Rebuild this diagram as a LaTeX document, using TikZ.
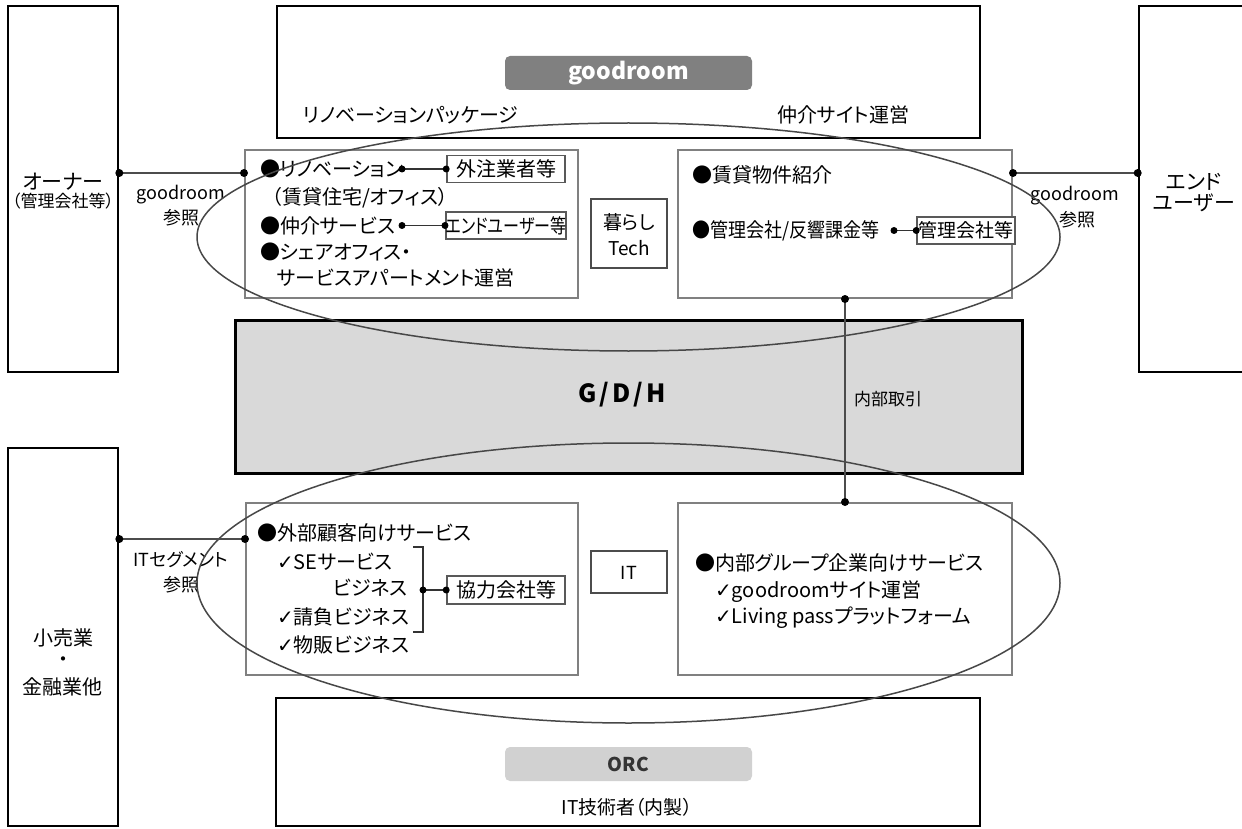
\documentclass[tikz,border=0pt]{standalone}
\usepackage{fontspec}
\setmainfont{Noto Sans CJK JP}[RawFeature=+palt]
\newfontfamily\dvs{DejaVu Sans}
\newcommand\fsz[1]{\fontsize{#1}{#1}\selectfont}
\newcommand\chk{{\dvs\fsz{20}✓}}
\definecolor{pillA}{gray}{0.5}
\definecolor{pillB}{gray}{0.82}
\definecolor{gdhfill}{gray}{0.85}
\definecolor{innerline}{gray}{0.5}
\definecolor{ellc}{gray}{0.28}
\begin{document}
\begin{tikzpicture}[x=1pt,y=-1pt,
  outer/.style={draw=black,line width=2.6pt,inner sep=0pt,fill=white},
  inner/.style={draw=innerline,line width=2pt,inner sep=0pt,fill=white},
  tagbox/.style={draw=black!65,line width=1.6pt,inner sep=0pt,fill=white,font=\fsz{20}},
  lbl/.style={inner sep=0pt,font=\fsz{20}},
  small/.style={inner sep=0pt,font=\fsz{18}},
  pill/.style={rounded corners=5pt,inner sep=0pt,minimum width=247pt,minimum height=34pt},
  dotc/.style={circle,fill=black,inner sep=0pt,minimum size=8pt},
  conn/.style={draw=black!70,line width=2pt},
  ell/.style={draw=ellc,line width=1.5pt}]
\useasboundingbox (0,0) rectangle (1242,829);

% outer boxes
\node[outer,minimum width=110pt,minimum height=366pt] (owner) at (63,189) {};
\node[outer,minimum width=703pt,minimum height=132pt] (topbox) at (628.5,72) {};
\node[outer,minimum width=107pt,minimum height=366pt] (enduser) at (1192.5,189) {};
\node[outer,fill=gdhfill,line width=3pt,minimum width=787pt,minimum height=153pt] (gdh) at (628.5,396.5) {};
\node[outer,minimum width=704pt,minimum height=128pt] (botbox) at (628,762) {};
\node[outer,minimum width=110pt,minimum height=378pt] (retail) at (63,637) {};

% inner boxes
\node[inner,minimum width=333pt,minimum height=148pt] (ulbox) at (411.5,224) {};
\node[inner,minimum width=334pt,minimum height=148pt] (urbox) at (845,224) {};
\node[inner,minimum width=332pt,minimum height=172pt] (llbox) at (412,589) {};
\node[inner,minimum width=334pt,minimum height=172pt] (lrbox) at (845,589) {};
\node[inner,draw=black!70,line width=1.8pt,minimum width=76pt,minimum height=69pt] (tech) at (629,233.5) {};
\node[inner,draw=black!70,line width=1.8pt,minimum width=76pt,minimum height=42pt] (itbox) at (629,572) {};

% pills
\node[pill,fill=pillA,text=white,font=\fsz{23}\bfseries] (gr) at (628.5,73) {goodroom};
\node[pill,fill=pillB,text=black!80,font=\fsz{19}\bfseries] (orc) at (628.5,764) {ORC};

% top box texts
\node[lbl,anchor=west] (renopkg) at (303,115) {リノベーションパッケージ};
\node[lbl,anchor=west] (chukai) at (777,115) {仲介サイト運営};

% owner
\node[lbl,font=\fsz{21}] (ownerT) at (63,182) {オーナー};
\node[lbl,font=\fsz{17}] (ownerS) at (63,201) {（管理会社等）};
\node[small] (grl1) at (181,195) {goodroom};
\node[small] (grl2) at (181,218) {参照};

% end user
\node[lbl,font=\fsz{21}] (euT1) at (1194,182) {エンド};
\node[lbl,font=\fsz{21}] (euT2) at (1194,203) {ユーザー};
\node[small] (grr1) at (1075,196) {goodroom};
\node[small] (grr2) at (1077,220) {参照};

% upper-left inner texts
\node[lbl,anchor=west] (renov) at (260,169) {●リノベーション};
\node[lbl,anchor=west] (chintaiO) at (272,198) {（賃貸住宅/オフィス）};
\node[lbl,anchor=west] (chukaiS) at (260,225.5) {●仲介サービス};
\node[lbl,anchor=west] (share1) at (260,252) {●シェアオフィス・};
\node[lbl,anchor=west] (share2) at (277,278) {サービスアパートメント運営};
\node[tagbox,minimum width=118pt,minimum height=27pt] (tag1) at (506,169) {外注業者等};
\node[tagbox,minimum width=118pt,minimum height=27pt] (tag2) at (506,225.5) {\scalebox{0.8}[1]{エンドユーザー等}};
\coordinate (d1) at (402,169);
\coordinate (d2) at (402,225.5);

% tech box text
\node[lbl,font=\fsz{19}] (techA) at (629,222) {暮らし};
\node[lbl,font=\fsz{19}] (techB) at (629,248) {Tech};

% upper-right inner texts
\node[lbl,anchor=west] (chintai) at (692,175) {●賃貸物件紹介};
\node[lbl,anchor=west] (kanri) at (692,230.5) {\scalebox{0.9}[1]{●管理会社/反響課金等}};
\node[tagbox,font=\fsz{19},minimum width=98pt,minimum height=27pt] (tag3) at (966,230.5) {管理会社等};
\coordinate (d3) at (894,230.5);

% G/D/H
\node[inner sep=0pt,font=\fsz{25}\bfseries] (gdhT) at (622,395) {G\hspace{3pt}/\hspace{3pt}D\hspace{3pt}/\hspace{3pt}H};
\node[lbl,anchor=west,font=\fsz{17}] (naibu) at (854,399) {内部取引};

% lower-left inner texts
\node[lbl,anchor=west] (gaibu) at (257,533) {●外部顧客向けサービス};
\node[lbl,anchor=west] (se1) at (277,562) {\chk SEサービス};
\node[lbl,anchor=east] (se2) at (408,588) {ビジネス};
\node[lbl,anchor=west] (ukeoi) at (277,617) {\chk 請負ビジネス};
\node[lbl,anchor=west] (buppan) at (277,645) {\chk 物販ビジネス};
\node[tagbox,minimum width=118pt,minimum height=28pt] (tag4) at (506,590) {協力会社等};
\coordinate (br1) at (413,547);
\coordinate (br2) at (423,547);
\coordinate (br3) at (423,632);
\coordinate (br4) at (413,632);
\coordinate (d4) at (423,590);

% IT box
\node[lbl,font=\fsz{18}] (itT) at (629,573) {IT};

% lower-right inner texts
\node[lbl,anchor=west] (naibuG) at (695,563) {●内部グループ企業向けサービス};
\node[lbl,anchor=west] (grsite) at (715,592) {\chk goodroomサイト運営};
\node[lbl,anchor=west] (living) at (715,618) {\chk Living passプラットフォーム};

% retail
\node[lbl] (rt1) at (63,638) {小売業};
\node[lbl] (rt2) at (63,662) {・};
\node[lbl] (rt3) at (63,687) {金融業他};
\node[small] (itseg1) at (181,560) {ITセグメント};
\node[small] (itseg2) at (181,585) {参照};

% bottom
\node[lbl,font=\fsz{19}] (itgijutsu) at (627,807) {IT技術者（内製）};

% ellipses
\draw[ell] (628.5,237) ellipse [x radius=431.5pt, y radius=114pt];
\draw[ell] (628.5,583) ellipse [x radius=431.5pt, y radius=140pt];

% connectors
\coordinate (yOwner) at (0,173);
\coordinate (yRetail) at (0,539);
\draw[conn] (owner.east |- yOwner) -- (ulbox.west |- yOwner);
\node[dotc] at (owner.east |- yOwner) {};
\node[dotc] at (ulbox.west |- yOwner) {};
\draw[conn] (urbox.east |- yOwner) -- (enduser.west |- yOwner);
\node[dotc] at (urbox.east |- yOwner) {};
\node[dotc] at (enduser.west |- yOwner) {};
\draw[conn] (retail.east |- yRetail) -- (llbox.west |- yRetail);
\node[dotc] at (retail.east |- yRetail) {};
\node[dotc] at (llbox.west |- yRetail) {};
\draw[conn,line width=1.6pt] (urbox.south) -- (lrbox.north);
\node[dotc] at (urbox.south) {};
\node[dotc] at (lrbox.north) {};

\draw[conn,line width=1.4pt,draw=black!80] (d1) -- (tag1.west);
\node[dotc,minimum size=7pt] at (d1) {};
\node[dotc,minimum size=7pt] at (tag1.west) {};
\draw[conn,line width=1.4pt,draw=black!80] (d2) -- (tag2.west);
\node[dotc,minimum size=7pt] at (d2) {};
\node[dotc,minimum size=7pt] at (tag2.west) {};
\draw[conn,line width=1.4pt,draw=black!80] (d3) -- (tag3.west);
\node[dotc,minimum size=7pt] at (d3) {};
\node[dotc,minimum size=7pt] at (tag3.west) {};
\draw[conn,line width=1.4pt,draw=black!80] (br1) -- (br2) -- (br3) -- (br4);
\draw[conn,line width=1.4pt,draw=black!80] (d4) -- (tag4.west);
\node[dotc,minimum size=7pt] at (d4) {};
\node[dotc,minimum size=7pt] at (tag4.west) {};
\end{tikzpicture}
\end{document}
